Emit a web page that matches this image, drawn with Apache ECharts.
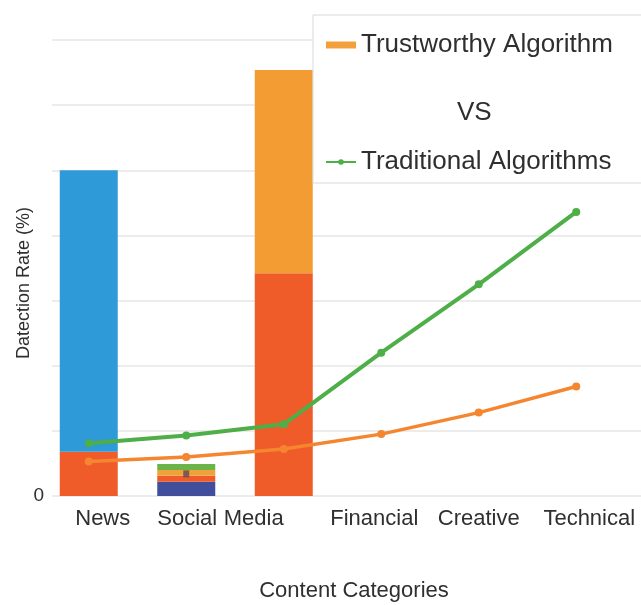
<!DOCTYPE html>
<html><head><meta charset="utf-8">
<script src="https://cdn.jsdelivr.net/npm/echarts@6/dist/echarts.min.js"></script>
<style>html,body{margin:0;padding:0;background:#fff}#c{width:641px;height:605px}</style>
</head><body><div id="c"></div>
<script>
// ---- data ----
const categories = ['News', 'Social', 'Media', 'Financial', 'Creative', 'Technical'];
const yTickLabels = ['0', '', '', '', '', '', '', ''];
const segNavy   = ['-', 2.2, '-', '-', '-', '-'];
const segRed    = [6.8, 0.9, 34.2, '-', '-', '-'];
const segGold   = ['-', 0.9, '-', '-', '-', '-'];
const segGreen  = ['-', 0.9, '-', '-', '-', '-'];
const segBlue   = [43.2, '-', '-', '-', '-', '-'];
const segOrange = ['-', '-', 31.2, '-', '-', '-'];
const dotMark   = ['-', 3.4, '-', '-', '-', '-'];
const traditional = [8.1, 9.3, 11.0, 22.0, 32.5, 43.6];
const trustworthy = [5.3, 6.0, 7.2, 9.5, 12.8, 16.8];

// ---- styling ----
const FONT = 'Liberation Sans, Arial, sans-serif';
const TXT = '#2f2f2f';
const labelPad = [[0,0,0,28],[0,0,0,2],[0,60,0,0],[0,14,0,0],[0,0,0,0],[0,0,0,26]];
const rich = {};
labelPad.forEach((p, i) => { rich['a' + i] = {fontSize: 22, fontFamily: FONT, color: TXT, padding: p}; });

const barBase = {type: 'bar', stack: 'total', barWidth: 58, xAxisIndex: 1, yAxisIndex: 1};

const chart = echarts.init(document.getElementById('c'), null, {renderer: 'canvas'});
chart.setOption({
  animation: false,
  backgroundColor: '#fff',
  textStyle: {fontFamily: FONT},
  grid: [
    {left: 52, right: 0, top: 40, bottom: 109, outerBoundsMode: 'none', containLabel: false},
    {left: 40, right: 16, top: 40, bottom: 109, outerBoundsMode: 'none', containLabel: false}
  ],
  xAxis: [
    {gridIndex: 0, type: 'value', min: 0, max: 1, show: false},
    {gridIndex: 1, type: 'category', data: categories,
     axisLine: {show: false}, axisTick: {show: false},
     axisLabel: {interval: 0, margin: 12, formatter: (v, i) => '{a' + i + '|' + v + '}', rich: rich},
     name: 'Content Categories', nameLocation: 'middle', nameGap: 84, nameMoveOverlap: false,
     nameTextStyle: {fontSize: 22, color: TXT, fontFamily: FONT, padding: [0, 0, 0, 43]}}
  ],
  yAxis: [
    {gridIndex: 0, type: 'value', min: 0, max: 70, interval: 10,
     axisLine: {show: false}, axisTick: {show: false},
     splitLine: {lineStyle: {color: '#e6e6e6', width: 1.5}},
     axisLabel: {margin: 8, fontSize: 19, color: TXT, fontFamily: FONT,
       formatter: (v) => yTickLabels[Math.round(v / 10)] || ''},
     name: 'Datection Rate (%)', nameLocation: 'middle', nameGap: 19, nameMoveOverlap: false,
     nameTextStyle: {fontSize: 18, color: TXT, fontFamily: FONT, padding: [0, 30, 0, 0]}},
    {gridIndex: 1, type: 'value', min: 0, max: 70, interval: 10, show: false}
  ],
  legend: {
    orient: 'vertical', left: 313, top: 15,
    padding: [17, 60, 8, 12], itemGap: 91,
    itemWidth: 30, itemHeight: 7,
    backgroundColor: '#fff', borderColor: '#d9d9d9', borderWidth: 1,
    textStyle: {fontSize: 26, color: TXT, fontFamily: FONT},
    data: [
      {name: 'Trustworthy Algorithm', icon: 'rect', itemStyle: {color: '#F2A03C'}},
      {name: 'Traditional Algorithms'}
    ]
  },
  graphic: [{
    type: 'text', left: 457, top: 100, z: 100,
    style: {text: 'VS', fontSize: 26, fontFamily: FONT, fill: TXT}
  }],
  series: [
    Object.assign({name: 'Segment Navy', data: segNavy, itemStyle: {color: '#404E9C'}}, barBase),
    Object.assign({name: 'Segment Red', data: segRed, itemStyle: {color: '#F05B2A'}}, barBase),
    Object.assign({name: 'Segment Gold', data: segGold, itemStyle: {color: '#F0A23A'}}, barBase),
    Object.assign({name: 'Segment Green', data: segGreen, itemStyle: {color: '#6BB449'}}, barBase),
    Object.assign({name: 'Segment Blue', data: segBlue, itemStyle: {color: '#2E9AD8'}}, barBase),
    Object.assign({name: 'Segment Orange', data: segOrange, itemStyle: {color: '#F39C34'}}, barBase),
    {name: 'Mark', type: 'scatter', data: dotMark, xAxisIndex: 1, yAxisIndex: 1,
     symbol: 'rect', symbolSize: [6, 7], itemStyle: {color: '#5e4a50'}, z: 4},
    {name: 'Traditional Algorithms', type: 'line', data: traditional, xAxisIndex: 1, yAxisIndex: 1,
     symbol: 'circle', symbolSize: 8, lineStyle: {width: 4, color: '#4EAE48'},
     itemStyle: {color: '#4EAE48'}, z: 5},
    {name: 'Trustworthy Algorithm', type: 'line', data: trustworthy, xAxisIndex: 1, yAxisIndex: 1,
     symbol: 'circle', symbolSize: 8, lineStyle: {width: 3.5, color: '#F5862F'},
     itemStyle: {color: '#F5862F'}, z: 5}
  ]
});
</script></body></html>
